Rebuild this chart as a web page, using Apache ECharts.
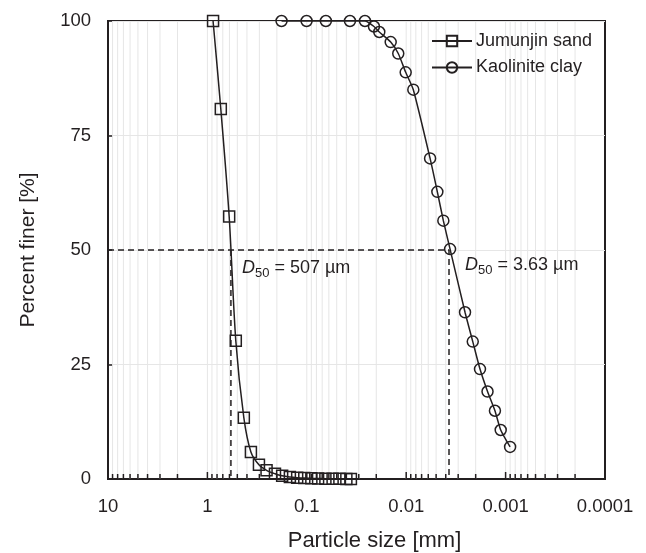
<!DOCTYPE html>
<html>
<head>
<meta charset="utf-8">
<script src="https://cdn.jsdelivr.net/npm/echarts@6/dist/echarts.min.js"></script>
<style>html,body{margin:0;padding:0;background:#fff;}#c{width:646px;height:553px;}</style>
</head>
<body>
<div id="c"></div>
<script>
const sandSize  = [0.877, 0.733, 0.604, 0.518, 0.430, 0.365, 0.303, 0.254, 0.209, 0.177, 0.148, 0.125, 0.106, 0.090, 0.077, 0.065, 0.055, 0.047, 0.040, 0.036];
const sandFiner = [100, 80.8, 57.3, 30.2, 13.4, 5.9, 3.1, 1.9, 1.15, 0.7, 0.45, 0.3, 0.2, 0.15, 0.1, 0.08, 0.05, 0.03, 0.02, 0.0];
const claySize  = [0.1795, 0.1005, 0.0643, 0.0368, 0.0260, 0.0211, 0.01866, 0.01432, 0.01202, 0.01012, 0.00848, 0.00575, 0.00486, 0.00423, 0.00362, 0.00256, 0.00214, 0.00181, 0.00152, 0.00128, 0.00112, 0.000901];
const clayFiner = [100, 100, 100, 100, 100, 98.8, 97.6, 95.4, 92.9, 88.8, 85.0, 70.0, 62.7, 56.4, 50.2, 36.4, 30.0, 24.0, 19.1, 14.9, 10.7, 7.0];
const d50Sand = 0.58;      // position of the dashed marker in the figure
const d50Clay = 0.00371;
const d50SandLabel = '507 µm';
const d50ClayLabel = '3.63 µm';
const xTickLabels = ['10', '1', '0.1', '0.01', '0.001', '0.0001'];
const decades = [10, 1, 0.1, 0.01, 0.001, 0.0001];
const minorMultipliers = [2, 3, 4, 5, 6, 7, 8, 9];

const ink = '#231f20';
const FONT = 'Liberation Sans, Arial, sans-serif';

// minor + major positions for gridlines/ticks
const gridVals = [];
decades.forEach(function (d) {
  if (d < 10) {
    if (d > 0.0001) gridVals.push([d, 1]);
    minorMultipliers.forEach(function (m) { gridVals.push([+(m * d).toPrecision(3), 0]); });
  }
});

const chart = echarts.init(document.getElementById('c'), null, {renderer: 'canvas'});
const rich = {
  i: {fontStyle: 'italic', fontSize: 18, fontFamily: FONT, color: ink},
  s: {fontSize: 13, fontFamily: FONT, color: ink, verticalAlign: 'bottom', padding: [0, 0, -3, 0]},
  n: {fontSize: 18, fontFamily: FONT, color: ink}
};

chart.setOption({
  animation: false,
  backgroundColor: '#fff',
  grid: {left: 108, right: 41, top: 21, bottom: 74, containLabel: false, outerBoundsMode: 'none',
         show: true, borderColor: ink, borderWidth: 2, backgroundColor: 'transparent'},
  legend: {
    data: ['Jumunjin sand', 'Kaolinite clay'],
    left: 431, top: 32, orient: 'vertical', padding: 0,
    itemWidth: 40, itemHeight: 13, itemGap: 8.5,
    textStyle: {fontSize: 18, fontFamily: FONT, color: ink, padding: [0, 0, 0, -1]}
  },
  xAxis: {
    type: 'log', logBase: 10, min: 0.0001, max: 10, inverse: true,
    name: 'Particle size [mm]', nameLocation: 'middle', nameGap: 51,
    nameTextStyle: {fontSize: 22, fontFamily: FONT, color: ink, padding: [0, 0, 0, 36]},
    axisLine: {show: true, onZero: false, lineStyle: {color: ink, width: 2}},
    axisTick: {show: false},
    splitLine: {show: false},
    axisLabel: {
      margin: 18, fontSize: 18.5, fontFamily: FONT, color: ink,
      formatter: function (v) {
        const e = Math.round(Math.log10(v));
        return xTickLabels[1 - e];
      }
    }
  },
  yAxis: {
    type: 'value', min: 0, max: 100, interval: 25,
    name: 'Percent finer [%]', nameLocation: 'middle', nameGap: 69, nameRotate: 90,
    nameTextStyle: {fontSize: 21, fontFamily: FONT, color: ink},
    axisLine: {show: true, lineStyle: {color: ink, width: 2}},
    axisTick: {show: true, inside: true, length: 5, lineStyle: {color: ink, width: 1.5}},
    splitLine: {show: true, lineStyle: {color: '#e6e6e6', width: 1}},
    axisLabel: {margin: 17, fontSize: 18.5, fontFamily: FONT, color: ink}
  },
  series: [
    {
      type: 'custom', name: 'grid', silent: true, z: 1,
      data: gridVals,
      encode: {x: 0, y: 1},
      renderItem: function (params, api) {
        const v = api.value(0);
        const major = api.value(1) === 1;
        const p0 = api.coord([v, 0]);
        const p1 = api.coord([v, 100]);
        return {
          type: 'group',
          children: [
            {type: 'line', shape: {x1: p0[0], y1: p0[1], x2: p1[0], y2: p1[1]}, style: {stroke: '#e6e6e6', lineWidth: 1}},
            {type: 'line', z2: 10, shape: {x1: p0[0], y1: p0[1], x2: p0[0], y2: p0[1] - (major ? 7 : 5)}, style: {stroke: ink, lineWidth: 1.5}}
          ]
        };
      }
    },
    {
      type: 'line', name: 'd50lines', silent: true, z: 3, symbol: 'none',
      data: [[10, 50], [d50Clay, 50], [d50Clay, 0]],
      lineStyle: {color: ink, width: 1.5, type: [6, 4]}
    },
    {
      type: 'line', name: 'd50sand', silent: true, z: 3, symbol: 'none',
      data: [[d50Sand, 50], [d50Sand, 0]],
      lineStyle: {color: ink, width: 1.5, type: [6, 4]}
    },
    {
      type: 'line', name: 'Jumunjin sand', z: 5,
      data: sandSize.map(function (x, i) { return [x, sandFiner[i]]; }),
      smooth: 0.3,
      symbol: 'rect', symbolSize: 11,
      lineStyle: {color: ink, width: 1.5},
      itemStyle: {color: 'rgba(255,255,255,0)', borderColor: ink, borderWidth: 1.5}
    },
    {
      type: 'line', name: 'Kaolinite clay', z: 5,
      data: claySize.map(function (x, i) { return [x, clayFiner[i]]; }),
      smooth: 0.2,
      symbol: 'circle', symbolSize: 11,
      lineStyle: {color: ink, width: 1.5},
      itemStyle: {color: 'rgba(255,255,255,0)', borderColor: ink, borderWidth: 1.5}
    },
    {
      type: 'scatter', name: 'labels', silent: true, z: 6, symbolSize: 0,
      itemStyle: {opacity: 1},
      data: [
        {value: [d50Sand, 50], label: {formatter: '{i|D}{s|50}{n| = ' + d50SandLabel + '}', offset: [11, 18]}},
        {value: [d50Clay, 50], label: {formatter: '{i|D}{s|50}{n| = ' + d50ClayLabel + '}', offset: [16, 15]}}
      ],
      label: {show: true, position: 'right', distance: 0, color: ink, opacity: 1, rich: rich}
    }
  ]
});
</script>
</body>
</html>
